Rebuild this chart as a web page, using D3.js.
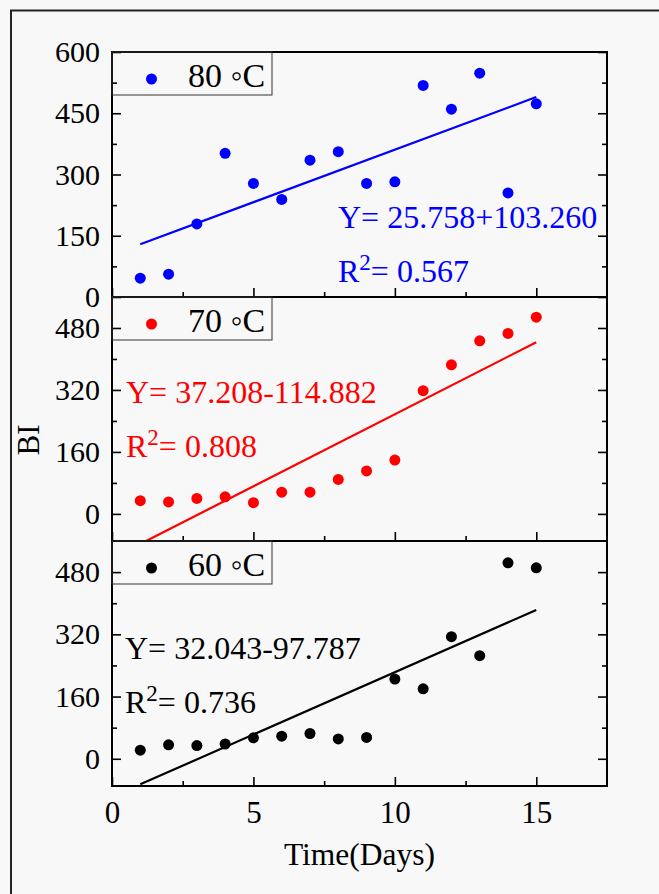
<!DOCTYPE html>
<html>
<head>
<meta charset="utf-8">
<script src="https://cdn.jsdelivr.net/npm/d3@7/dist/d3.min.js"></script>
<style>
  body { margin: 0; background: #f8f8f8; }
  svg { display: block; font-family: "Liberation Serif", "Times New Roman", serif; }
</style>
</head>
<body>
<svg id="chart" width="659" height="894"></svg>
<script>
// data
const days = [1, 2, 3, 4, 5, 6, 7, 8, 9, 10, 11, 12, 13, 14, 15];
const bi80 = [46, 56, 179, 352, 278, 239, 335, 356, 278, 282, 518, 460, 548, 255, 473];
const bi70 = [34, 31, 40, 44, 29, 56, 56, 89, 111, 139, 318, 385, 447, 466, 508];
const bi60 = [22, 36, 34, 38, 54, 58, 65, 51, 55, 205, 180, 314, 265, 504, 491];
const seriesNames = ["80 \u25E6C", "70 \u25E6C", "60 \u25E6C"];
const slopes = [25.758, 37.208, 32.043];
const intercepts = [103.260, -114.882, -97.787];
const eqTexts = ["Y= 25.758+103.260", "Y= 37.208-114.882", "Y= 32.043-97.787"];
const r2Texts = ["= 0.567", "= 0.808", "= 0.736"];
const xTicks = [0, 5, 10, 15];
const xMinor = [2.5, 7.5, 12.5];
const yTicksTop = [0, 150, 300, 450, 600];
const yMinorTop = [75, 225, 375, 525];
const yTicksLow = [0, 160, 320, 480];
const yMinorLow = [80, 240, 400];

const svg = d3.select('#chart');
const left = 112, right = 607;

// outer frame (only top/left visible)
svg.append('path')
  .attr('d', 'M11,894V10.5H659')
  .attr('fill', 'none').attr('stroke', '#222').attr('stroke-width', 2);

const x = d3.scaleLinear().domain([0, 17.5]).range([left, right]);

const panels = [
  { top: 52, bottom: 297, domain: [0, 600], ticks: yTicksTop, minor: yMinorTop, data: bi80, color: '#0000ff',
    eqX: 338, eqY: 228, r2Y: 282 },
  { top: 297, bottom: 541, domain: [-70, 560], ticks: yTicksLow, minor: yMinorLow, data: bi70, color: '#ff0000',
    eqX: 126, eqY: 403, r2Y: 457 },
  { top: 541, bottom: 786, domain: [-70, 560], ticks: yTicksLow, minor: yMinorLow, data: bi60, color: '#000000',
    eqX: 125, eqY: 659, r2Y: 713 }
];

panels.forEach((p, i) => {
  const y = d3.scaleLinear().domain(p.domain).range([p.bottom, p.top]);
  const g = svg.append('g');

  // clip for fit line
  svg.append('clipPath').attr('id', 'clip' + i)
    .append('rect').attr('x', left).attr('y', p.top).attr('width', right - left).attr('height', p.bottom - p.top);

  // left axis (major with labels, minor)
  g.append('g').attr('transform', `translate(${left},0)`)
    .call(d3.axisLeft(y).tickValues(p.ticks).tickSize(-9).tickPadding(12))
    .call(a => a.selectAll('text').attr('font-size', 30).attr('fill', '#000').attr('font-family', 'Liberation Serif'));
  g.append('g').attr('transform', `translate(${left},0)`)
    .call(d3.axisLeft(y).tickValues(p.minor).tickSize(-5).tickFormat(''));
  // right axis
  g.append('g').attr('transform', `translate(${right},0)`)
    .call(d3.axisRight(y).tickValues(p.ticks).tickSize(-9).tickFormat(''));
  g.append('g').attr('transform', `translate(${right},0)`)
    .call(d3.axisRight(y).tickValues(p.minor).tickSize(-5).tickFormat(''));
  // bottom axis
  const bx = g.append('g').attr('transform', `translate(0,${p.bottom})`)
    .call(d3.axisBottom(x).tickValues(xTicks).tickSize(-9).tickPadding(15)
      .tickFormat(i === 2 ? d3.format('d') : ''));
  bx.selectAll('text').attr('font-size', 31).attr('fill', '#000').attr('font-family', 'Liberation Serif');
  g.append('g').attr('transform', `translate(0,${p.bottom})`)
    .call(d3.axisBottom(x).tickValues(xMinor).tickSize(-5).tickFormat(''));
  g.selectAll('.domain').remove();
  g.selectAll('.tick line').attr('stroke', '#000').attr('stroke-width', 1.6);

  // frame
  g.append('rect').attr('x', left).attr('y', p.top).attr('width', right - left).attr('height', p.bottom - p.top)
    .attr('fill', 'none').attr('stroke', '#000').attr('stroke-width', 2);

  // fit line
  const fx = [days[0], days[days.length - 1]];
  g.append('line')
    .attr('clip-path', `url(#clip${i})`)
    .attr('x1', x(fx[0])).attr('y1', y(slopes[i] * fx[0] + intercepts[i]))
    .attr('x2', x(fx[1])).attr('y2', y(slopes[i] * fx[1] + intercepts[i]))
    .attr('stroke', p.color).attr('stroke-width', 2.2);

  // points
  g.selectAll('circle.pt').data(p.data).enter().append('circle')
    .attr('class', 'pt')
    .attr('cx', (d, k) => x(days[k])).attr('cy', d => y(d))
    .attr('r', 5.5).attr('fill', p.color);

  // legend
  g.append('rect').attr('x', left).attr('y', p.top).attr('width', 160).attr('height', 43)
    .attr('fill', 'none').attr('stroke', '#333').attr('stroke-width', 1);
  g.append('circle').attr('cx', 151.5).attr('cy', p.top + 27).attr('r', 5.5).attr('fill', p.color);
  g.append('text').attr('x', 188).attr('y', p.top + 35)
    .attr('font-size', 34).attr('fill', '#000').text(seriesNames[i]);

  // equation
  g.append('text').attr('x', p.eqX).attr('y', p.eqY).attr('font-size', 32).attr('fill', p.color)
    .text(eqTexts[i]);
  const r2 = g.append('text').attr('x', p.eqX).attr('y', p.r2Y).attr('font-size', 32).attr('fill', p.color);
  r2.append('tspan').text('R');
  r2.append('tspan').attr('dy', -12).attr('font-size', 23).text('2');
  r2.append('tspan').attr('dy', 12).text(r2Texts[i]);
});

// axis titles
svg.append('text')
  .attr('transform', 'translate(39,440) rotate(-90)')
  .attr('text-anchor', 'middle').attr('font-size', 31).text('BI');
svg.append('text')
  .attr('x', (left + right) / 2).attr('y', 865)
  .attr('text-anchor', 'middle').attr('font-size', 31.5).text('Time(Days)');
</script>
</body>
</html>
